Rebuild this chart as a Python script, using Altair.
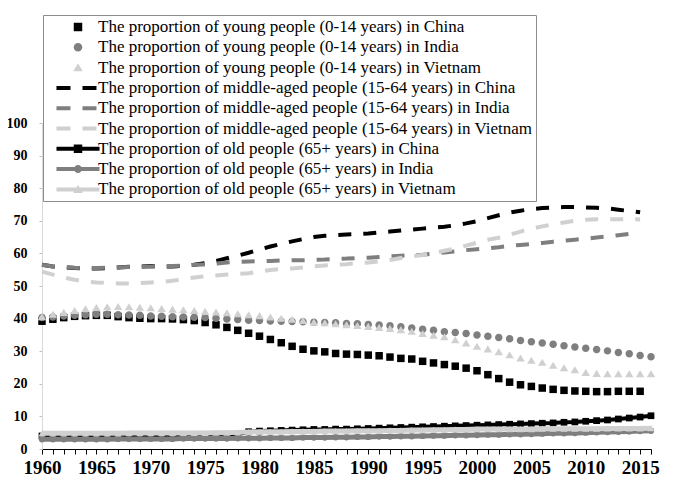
import altair as alt
import pandas as pd

years = list(range(1960, 2017))

young_china = [39.2, 39.8, 40.3, 40.7, 40.9, 41.0, 41.0, 40.6, 40.3, 40.1,
               40.0, 40.0, 39.9, 39.7, 39.4, 38.8, 38.1, 37.3, 36.4, 35.5,
               34.6, 33.6, 32.6, 31.5, 30.6, 30.1, 29.8, 29.3, 29.1, 29.0,
               28.8, 28.6, 28.2, 27.8, 27.6, 26.9, 26.4, 25.9, 25.4, 24.8,
               24.0, 22.8, 21.6, 20.5, 19.7, 19.2, 18.7, 18.3, 18.0, 17.8,
               17.7, 17.6, 17.6, 17.7, 17.7, 17.7, None]
young_india = [40.3, 40.5, 40.8, 41.0, 41.2, 41.3, 41.3, 41.2, 41.1, 41.0,
               40.8, 40.7, 40.6, 40.5, 40.4, 40.3, 40.1, 39.9, 39.7, 39.5,
               39.4, 39.3, 39.2, 39.1, 39.0, 38.9, 38.8, 38.7, 38.5, 38.4,
               38.2, 38.0, 37.8, 37.5, 37.1, 36.7, 36.4, 36.0, 35.7, 35.4,
               35.0, 34.6, 34.2, 33.8, 33.3, 32.9, 32.5, 32.1, 31.7, 31.3,
               30.9, 30.5, 30.1, 29.6, 29.2, 28.7, 28.3]
young_vietnam = [40.5, 41.2, 41.8, 42.4, 42.9, 43.3, 43.5, 43.6, 43.5, 43.4,
                 43.2, 43.0, 42.8, 42.6, 42.4, 42.1, 41.9, 41.7, 41.4, 41.1,
                 40.8, 40.4, 40.0, 39.7, 39.3, 38.8, 38.6, 38.3, 38.0, 37.8,
                 37.5, 37.2, 36.9, 36.5, 36.0, 35.3, 34.8, 34.3, 33.4, 32.4,
                 31.4, 30.6, 29.7, 28.8, 27.8, 27.1, 26.5, 25.6, 24.8, 24.2,
                 23.4, 23.1, 23.0, 23.0, 23.0, 23.0, 23.0]

middle_china = [56.5, 56.0, 55.7, 55.5, 55.4, 55.4, 55.5, 55.7, 55.9, 56.0,
                56.1, 56.0, 56.0, 56.2, 56.5, 57.0, 57.7, 58.5, 59.3, 60.2,
                61.2, 62.1, 62.9, 63.7, 64.4, 65.0, 65.4, 65.6, 65.8, 65.9,
                66.1, 66.4, 66.7, 67.0, 67.3, 67.6, 67.9, 68.2, 68.6, 69.2,
                69.9, 70.8, 71.7, 72.5, 73.1, 73.6, 73.9, 74.1, 74.2, 74.2,
                74.1, 74.0, 73.8, 73.4, 73.0, 72.6, None]
middle_india = [56.5, 56.0, 55.8, 55.6, 55.5, 55.5, 55.6, 55.7, 55.8, 55.9,
                56.0, 56.0, 56.1, 56.3, 56.5, 56.6, 56.9, 57.2, 57.4, 57.5,
                57.6, 57.7, 57.8, 57.9, 57.9, 58.0, 58.1, 58.3, 58.4, 58.6,
                58.7, 58.9, 59.1, 59.3, 59.4, 59.6, 59.9, 60.3, 60.6, 61.0,
                61.3, 61.6, 61.9, 62.3, 62.6, 62.9, 63.2, 63.6, 63.9, 64.2,
                64.5, 64.9, 65.2, 65.6, 66.0, 66.3, None]
middle_vietnam = [54.4, 53.5, 52.6, 51.9, 51.4, 51.1, 50.9, 50.8, 50.8, 50.9,
                  51.1, 51.3, 51.6, 52.1, 52.6, 53.0, 53.2, 53.5, 53.7, 53.9,
                  54.4, 54.9, 55.2, 55.4, 55.7, 56.0, 56.3, 56.5, 56.7, 57.0,
                  57.2, 57.6, 58.0, 58.6, 59.1, 59.5, 60.1, 60.8, 61.5, 62.4,
                  63.3, 64.2, 64.8, 65.7, 66.7, 67.6, 68.3, 68.9, 69.5, 70.0,
                  70.3, 70.5, 70.5, 70.5, 70.5, 70.4, None]

old_china = [4.0, 4.0, 4.0, 4.0, 4.0, 4.0, 4.0, 4.0, 4.1, 4.1,
             4.1, 4.2, 4.2, 4.3, 4.3, 4.4, 4.4, 4.5, 4.6, 5.3,
             5.5, 5.6, 5.7, 5.8, 5.9, 6.0, 6.0, 6.1, 6.1, 6.2,
             6.3, 6.4, 6.5, 6.6, 6.7, 6.8, 6.9, 7.0, 7.1, 7.2,
             7.3, 7.4, 7.5, 7.6, 7.7, 7.8, 7.9, 8.0, 8.2, 8.3,
             8.5, 8.7, 8.9, 9.2, 9.5, 9.8, 10.2]
old_india = [3.0, 3.0, 3.0, 3.0, 3.0, 3.0, 3.0, 3.1, 3.1, 3.1,
             3.1, 3.1, 3.1, 3.2, 3.2, 3.2, 3.2, 3.2, 3.3, 3.3,
             3.3, 3.4, 3.4, 3.4, 3.5, 3.5, 3.5, 3.6, 3.6, 3.7,
             3.7, 3.8, 3.8, 3.9, 3.9, 4.0, 4.1, 4.1, 4.2, 4.2,
             4.3, 4.4, 4.4, 4.5, 4.5, 4.6, 4.7, 4.8, 4.8, 4.9,
             5.0, 5.1, 5.2, 5.3, 5.4, 5.5, 5.6]
old_vietnam = [4.8, 4.8, 4.8, 4.8, 4.8, 4.8, 4.8, 4.8, 4.9, 4.9,
               4.9, 4.9, 4.9, 4.9, 4.9, 4.9, 5.0, 5.0, 5.1, 5.2,
               5.3, 5.3, 5.3, 5.4, 5.4, 5.4, 5.5, 5.5, 5.5, 5.6,
               5.6, 5.6, 5.7, 5.7, 5.8, 5.8, 5.9, 5.9, 6.0, 6.0,
               6.1, 6.1, 6.1, 6.1, 6.1, 6.1, 6.2, 6.2, 6.2, 6.2,
               6.2, 6.2, 6.3, 6.3, 6.3, 6.3, 6.4]

countries = ["China", "India", "Vietnam"]
country_colors = ["#000000", "#7f7f7f", "#d0d0d0"]

series_names = (
    [f"The proportion of young people (0-14 years) in {c}" for c in countries]
    + [f"The proportion of middle-aged people (15-64 years) in {c}" for c in countries]
    + [f"The proportion of old people (65+ years) in {c}" for c in countries]
)
series_values = [young_china, young_india, young_vietnam,
                 middle_china, middle_india, middle_vietnam,
                 old_china, old_india, old_vietnam]
series_colors = country_colors * 3

rows = []
for name, vals in zip(series_names, series_values):
    for yr, v in zip(years, vals):
        if v is not None:
            rows.append({"year": yr, "value": v, "series": name})
df = pd.DataFrame(rows)

# legend symbol paths (unit = sqrt(size)/2 px)
SQ = "M-0.53,-0.53H0.53V0.53H-0.53Z"
CI = "M0.53,0A0.53,0.53 0 1,1 -0.53,0A0.53,0.53 0 1,1 0.53,0Z"
TR = "M0,-0.55L0.6,0.45L-0.6,0.45Z"
DASH = "M-2.69,-0.25H-0.94V0.25H-2.69ZM0.56,-0.25H2.31V0.25H0.56Z"
LINE = "M-2.69,-0.25H2.69V0.25H-2.69Z"
legend_shapes = [SQ, CI, TR, DASH, DASH, DASH,
                 LINE + SQ, LINE + "M0.5,0A0.5,0.5 0 1,1 -0.5,0A0.5,0.5 0 1,1 0.5,0Z", LINE + TR]

serif = "Liberation Serif, Times New Roman, serif"

x_enc = alt.X("year:Q",
              scale=alt.Scale(domain=[1960, 2016], nice=False, zero=False),
              axis=alt.Axis(values=years, format="d",
                            labelExpr="datum.value % 5 === 0 ? datum.label : ''",
                            labelOverlap=False, labelFlush=False,
                            tickSize=5, tickColor="#000000", domainColor="#000000",
                            labelFont=serif, labelFontWeight="bold", labelFontSize=19,
                            labelColor="#000000", labelPadding=4, grid=False, title=None))
y_enc = alt.Y("value:Q",
              scale=alt.Scale(domain=[0, 100], nice=False, zero=True),
              axis=alt.Axis(values=list(range(0, 101, 10)),
                            tickSize=3, tickColor="#bfbfbf", domainColor="#d9d9d9",
                            labelFont=serif, labelFontWeight="bold", labelFontSize=14,
                            labelColor="#000000", labelPadding=12, grid=False, title=None))

base = alt.Chart(df)
layers = []

for name, col in zip(series_names[3:6], country_colors):
    layers.append(
        base.transform_filter(alt.datum.series == name)
        .mark_line(strokeDash=[13, 12], strokeWidth=4, color=col)
        .encode(x=x_enc, y=y_enc)
    )

old_shapes = ["square", "circle", "triangle-up"]
old_sizes = [45, 40, 50]
old_widths = [4, 5, 5]
for name, col, shp, sz, w in zip(series_names[6:], country_colors, old_shapes, old_sizes, old_widths):
    sub = base.transform_filter(alt.datum.series == name)
    layers.append(sub.mark_line(strokeWidth=w, color=col).encode(x=x_enc, y=y_enc))
    layers.append(sub.mark_point(filled=True, shape=shp, size=sz, opacity=1, color=col)
                  .encode(x=x_enc, y=y_enc))

legend = alt.Legend(title=None, orient="none", legendX=1, legendY=-108,
                    labelFont=serif, labelFontSize=17, labelColor="#000000",
                    labelLimit=600, labelOffset=11, symbolSize=256,
                    symbolOffset=23, rowPadding=3.3, padding=3,
                    strokeColor="#8c8c8c", fillColor="#ffffff")

young_layer = (
    base.transform_filter(alt.FieldOneOfPredicate(field="series", oneOf=series_names[:3]))
    .mark_point(filled=True, size=200, opacity=1, strokeWidth=0)
    .encode(
        x=x_enc, y=y_enc,
        color=alt.Color("series:N", scale=alt.Scale(domain=series_names, range=series_colors),
                        legend=legend),
        shape=alt.Shape("series:N", scale=alt.Scale(domain=series_names, range=legend_shapes),
                        legend=legend),
    )
)
layers.append(young_layer)

chart = (
    alt.layer(*layers)
    .properties(width=609, height=326,
                autosize=alt.AutoSizeParams(type="none"),
                padding={"left": 34, "top": 115, "right": 17, "bottom": 31},
                background="#ffffff")
    .configure_view(strokeWidth=0)
)

chart.save("out.html", embed_options={"renderer": "svg", "actions": False})
